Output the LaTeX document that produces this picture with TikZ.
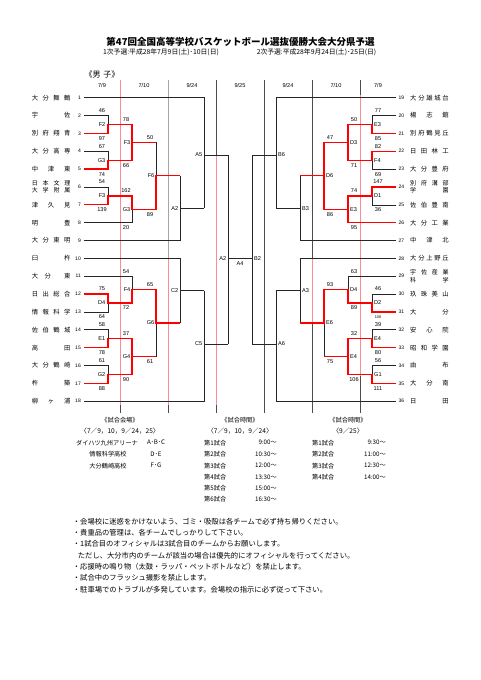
\documentclass[tikz,border=0pt]{standalone}
\usepackage{fontspec}
\setmainfont{Liberation Sans}
\newfontfamily\jp{Noto Sans CJK JP}
\newcommand\hf{\hfill\relax}
\begin{document}
\begin{tikzpicture}[x=1pt,y=-1pt,
  brk/.style={draw=black!85, line width=0.6pt},
  win/.style={draw=red, line width=1.3pt, line join=miter},
  sepg/.style={draw=black!70, line width=0.6pt},
  sepl/.style={draw=black!35, line width=0.6pt},
  sepr/.style={draw=red!45, line width=0.6pt},
  sc/.style={inner sep=0pt, font=\fontsize{5.6}{6}\selectfont},
  gl/.style={inner sep=0pt, font=\fontsize{5.6}{6}\selectfont},
  nm/.style={inner sep=0pt, font=\jp\fontsize{6.3}{7}\selectfont},
  nm2/.style={inner sep=0pt, align=left, font=\jp\fontsize{6}{7.3}\selectfont},
  num/.style={inner sep=0pt, font=\fontsize{5}{6}\selectfont},
  hd/.style={inner sep=0pt, font=\fontsize{5.6}{6}\selectfont},
  jps/.style={inner sep=0pt, font=\jp\fontsize{6.2}{7}\selectfont},
  jpsub/.style={inner sep=0pt, font=\jp\fontsize{6.6}{7}\selectfont},
  note/.style={inner sep=0pt, anchor=west, font=\jp\fontsize{7.3}{8}\selectfont}]
\useasboundingbox (0,0) rectangle (481,680);
\fill[white] (0,0) rectangle (481,680);

% title
\node[inner sep=0pt, font=\jp\bfseries\fontsize{9.5}{11}\selectfont] (title) at (240.5,41.7) {第47回全国高等学校バスケットボール選抜優勝大会大分県予選};
\node[inner sep=0pt, font=\jp\fontsize{6.8}{8}\selectfont] (sub1) at (161,52.5) {1次予選:平成28年7月9日(土)･10日(日)};
\node[inner sep=0pt, font=\jp\fontsize{6.8}{8}\selectfont] (sub2) at (316.5,52.5) {2次予選:平成28年9月24日(土)･25日(日)};
\node[inner sep=0pt, font=\jp\fontsize{8}{8}\selectfont] (sex) at (102,74) {《男\,\,子》};

% headers
\node[hd] (h1) at (102,85) {7/9};
\node[hd] (h2) at (144,85) {7/10};
\node[hd] (h3) at (192,85) {9/24};
\node[hd] (h4) at (240,85) {9/25};
\node[hd] (h5) at (288,85) {9/24};
\node[hd] (h6) at (336,85) {7/10};
\node[hd] (h7) at (378,85) {7/9};

% separators
\draw[sepr] (120,80) -- (120,405);
\draw[sepg] (120,405) -- (120,413);
\draw[sepl] (168,80) -- (168,258.35);
\draw[sepr] (168,258.35) -- (168,405);
\draw[sepg] (168,405) -- (168,413);
\draw[sepg] (216,80) -- (216,155);
\draw[sepr] (216,155) -- (216,405);
\draw[sepg] (216,405) -- (216,413);
\draw[sepg] (264,80) -- (264,413);
\draw[sepg] (312,80) -- (312,258.35);
\draw[sepr] (312,258.35) -- (312,323);
\draw[sepg] (312,323) -- (312,413);
\draw[sepg] (360,80) -- (360,95);
\draw[sepr] (360,95) -- (360,376);
\draw[sepg] (360,376) -- (360,413);

% ---------- left bracket (black) ----------
\draw[brk] (84,97.7) -- (204,97.7) -- (204,208.2);
\draw[brk] (84,115.55) -- (108,115.55) -- (108,124.5);
\draw[brk] (84,151.25) -- (108,151.25) -- (108,160.2);
\draw[brk] (84,186.95) -- (108,186.95) -- (108,195.9);
\draw[brk] (84,222.65) -- (132,222.65) -- (132,209.3);
\draw[brk] (84,240.5) -- (180,240.5) -- (180,175.8);
\draw[brk] (84,258.35) -- (180,258.35) -- (180,323);
\draw[brk] (84,276.2) -- (132,276.2) -- (132,289.6);
\draw[brk] (84,311.9) -- (108,311.9) -- (108,303);
\draw[brk] (84,329.75) -- (108,329.75) -- (108,338.7);
\draw[brk] (84,365.45) -- (108,365.45) -- (108,374.4);
\draw[brk] (84,401.15) -- (204,401.15) -- (204,290.7);
\draw[brk] (156,142.35) -- (156,175.8);
\draw[brk] (156,356.5) -- (156,323);
\draw[brk] (180,208.2) -- (204,208.2);
\draw[brk] (180,290.7) -- (204,290.7);
\draw[brk] (204,155) -- (228,155);
\draw[brk] (204,344) -- (228,344);
\draw[brk] (228,155) -- (228,344);
\draw[brk] (228,258.35) -- (252,258.35);

% ---------- right bracket (black) ----------
\draw[brk] (396,97.7) -- (276,97.7) -- (276,208.2);
\draw[brk] (396,115.55) -- (372,115.55) -- (372,124.5);
\draw[brk] (396,169.1) -- (372,169.1) -- (372,160.2);
\draw[brk] (396,204.8) -- (372,204.8) -- (372,195.9);
\draw[brk] (396,240.5) -- (300,240.5) -- (300,175.8);
\draw[brk] (396,258.35) -- (300,258.35) -- (300,323);
\draw[brk] (396,276.2) -- (348,276.2) -- (348,289.6);
\draw[brk] (396,294.05) -- (372,294.05) -- (372,303);
\draw[brk] (396,329.75) -- (372,329.75) -- (372,338.7);
\draw[brk] (396,365.45) -- (372,365.45) -- (372,374.4);
\draw[brk] (396,401.15) -- (276,401.15) -- (276,290.7);
\draw[brk] (324,356.5) -- (324,323);
\draw[brk] (300,208.2) -- (276,208.2);
\draw[brk] (300,290.7) -- (276,290.7);
\draw[brk] (276,155) -- (252,155);
\draw[brk] (276,344) -- (252,344);
\draw[brk] (252,155) -- (252,344);

% ---------- winners (red) ----------
\draw[win] (84,133.4) -- (108,133.4) -- (108,124.5) -- (132,124.5) -- (132,142.35) -- (156,142.35);
\draw[win] (84,169.1) -- (108,169.1) -- (108,160.2) -- (132,160.2) -- (132,142.35);
\draw[win] (84,204.8) -- (108,204.8) -- (108,195.9) -- (132,195.9) -- (132,209.3) -- (156,209.3) -- (156,175.8) -- (180,175.8);
\draw[win] (84,294.05) -- (108,294.05) -- (108,303) -- (132,303) -- (132,289.6) -- (156,289.6) -- (156,323) -- (180,323);
\draw[win] (84,347.6) -- (108,347.6) -- (108,338.7) -- (132,338.7) -- (132,356.5);
\draw[win] (84,383.3) -- (108,383.3) -- (108,374.4) -- (132,374.4) -- (132,356.5) -- (156,356.5);

\draw[win] (396,133.4) -- (372,133.4) -- (372,124.5) -- (348,124.5) -- (348,142.35);
\draw[win] (396,151.25) -- (372,151.25) -- (372,160.2) -- (348,160.2) -- (348,142.35) -- (324,142.35) -- (324,175.8);
\draw[win] (396,186.95) -- (372,186.95) -- (372,195.9) -- (348,195.9) -- (348,209.3);
\draw[win] (396,222.65) -- (348,222.65) -- (348,209.3) -- (324,209.3) -- (324,175.8) -- (300,175.8);
\draw[win] (396,311.9) -- (372,311.9) -- (372,303) -- (348,303) -- (348,289.6) -- (324,289.6) -- (324,323) -- (300,323);
\draw[win] (396,347.6) -- (372,347.6) -- (372,338.7) -- (348,338.7) -- (348,356.5);
\draw[win] (396,383.3) -- (372,383.3) -- (372,374.4) -- (348,374.4) -- (348,356.5) -- (324,356.5);

% ---------- team names ----------
\foreach \i/\y/\tn in {1/97.7/{大\hf 分\hf 舞\hf 鶴}, 2/115.55/{宇\hf 佐}, 3/133.4/{別\hf 府\hf 翔\hf 青},
  4/151.25/{大\hf 分\hf 高\hf 専}, 5/169.1/{中\hf 津\hf 東}, 7/204.8/{津\hf 久\hf 見},
  8/222.65/{明\hf 豊}, 9/240.5/{大\hf 分\hf 東\hf 明}, 10/258.35/{臼\hf 杵},
  11/276.2/{大\hf 分\hf\hf 東}, 12/294.05/{日\hf 出\hf 総\hf 合}, 13/311.9/{情\hf 報\hf 科\hf 学},
  14/329.75/{佐\hf 伯\hf 鶴\hf 城}, 15/347.6/{高\hf 田}, 16/365.45/{大\hf 分\hf 鶴\hf 崎},
  17/383.3/{杵\hf 築}, 18/401.15/{柳\hf ヶ\hf 浦}} {
  \node[nm, anchor=west] (name\i) at (31.7,\y) {\makebox[38.5pt][s]{\tn}};
}
\node[nm2, anchor=west] (name6) at (31.7,186.95) {\makebox[38.5pt][s]{日\hf 本\hf 文\hf 理}\\\makebox[38.5pt][s]{大\hf 学\hf 附\hf 属}};
\foreach \i/\y/\tn in {19/97.7/{大\hf 分\hf 雄\hf 城\hf 台}, 20/115.55/{楊\hf 志\hf 館}, 21/133.4/{別\hf 府\hf 鶴\hf 見\hf 丘},
  22/151.25/{日\hf 田\hf 林\hf 工}, 23/169.1/{大\hf 分\hf 豊\hf 府}, 25/204.8/{佐\hf 伯\hf 豊\hf 南},
  26/222.65/{大\hf 分\hf 工\hf 業}, 27/240.5/{中\hf 津\hf 北}, 28/258.35/{大\hf 分\hf 上\hf 野\hf 丘},
  30/294.05/{玖\hf 珠\hf 美\hf 山}, 31/311.9/{大\hf 分}, 32/329.75/{安\hf 心\hf 院},
  33/347.6/{昭\hf 和\hf 学\hf 園}, 34/365.45/{由\hf 布}, 35/383.3/{大\hf 分\hf 南}, 36/401.15/{日\hf 田}} {
  \node[nm, anchor=west] (name\i) at (410,\y) {\makebox[38.5pt][s]{\tn}};
}
\node[nm2, anchor=west] (name24) at (410,186.95) {\makebox[38.5pt][s]{別\hf 府\hf 溝\hf 部}\\\makebox[38.5pt][s]{学\hf 園}};
\node[nm2, anchor=west] (name29) at (410,276.2) {\makebox[38.5pt][s]{宇\hf 佐\hf 産\hf 業}\\\makebox[38.5pt][s]{科\hf 学}};

% ---------- numbers ----------
\foreach \i/\y in {1/97.7,2/115.55,3/133.4,4/151.25,5/169.1,6/186.95,7/204.8,8/222.65,9/240.5,10/258.35,11/276.2,12/294.05,13/311.9,14/329.75,15/347.6,16/365.45,17/383.3,18/401.15} {
  \node[num, anchor=east] (no\i) at (81,\y) {\i};
}
\foreach \i/\y in {19/97.7,20/115.55,21/133.4,22/151.25,23/169.1,24/186.95,25/204.8,26/222.65,27/240.5,28/258.35,29/276.2,30/294.05,31/311.9,32/329.75,33/347.6,34/365.45,35/383.3,36/401.15} {
  \node[num, anchor=west] (no\i) at (398.5,\y) {\i};
}

% ---------- scores ----------
\foreach \x/\y/\s [count=\k] in {102/110.5/46, 102/138.4/97, 102/146.2/67, 102/174.1/74, 102/181.9/54, 102/209.8/139,
  102/289/75, 102/316.9/64, 102/324.7/58, 102/352.6/78, 102/360.4/61, 102/388.3/88,
  126/119.5/78, 126/165.2/66, 126/190.9/162, 126/227.6/20, 126/271.2/54, 126/308/72, 126/333.7/37, 126/379.4/90,
  150/137.3/50, 150/214.3/89, 150/284.6/65, 150/361.5/61,
  378/110.5/77, 378/138.4/85, 378/146.2/82, 378/174.1/69, 378/181.9/147, 378/209.8/36,
  378/289/46, 378/324.7/39, 378/352.6/80, 378/360.4/56, 378/388.3/111,
  354/119.5/50, 354/165.2/71, 354/190.9/74, 354/227.6/95, 354/271.2/63, 354/308/89, 354/333.7/32, 354/379.4/106,
  330/137.3/47, 330/214.3/86, 330/284.6/93, 330/361.5/75} {
  \node[sc] (score\k) at (\x,\y) {\s};
}
\node[inner sep=0pt, font=\fontsize{3.8}{4}\selectfont] (score108) at (378,316.9) {108};

% ---------- game labels ----------
\foreach \x/\y/\s/\a [count=\k] in {105.5/124.5/F2/east, 105.5/160.2/G3/east, 105.5/195.9/F3/east, 105.5/303/D4/east, 105.5/338.7/E1/east, 105.5/374.4/G2/east,
  130.5/142.35/F3/east, 130.5/209.3/G3/east, 130.5/289.6/F4/east, 130.5/356.5/G4/east,
  154.5/175.8/F6/east, 154.5/323/G6/east, 178.5/208.2/A2/east, 178.5/290.7/C2/east,
  202.5/155/A5/east, 202.5/344/C5/east, 226.5/258.35/A2/east,
  374/124.5/E3/west, 374/160.2/F4/west, 374/195.9/D1/west, 374/303/D2/west, 374/338.7/E4/west, 374/374.4/G1/west,
  350/142.35/D3/west, 350/209.3/E3/west, 350/289.6/D4/west, 350/356.5/E4/west,
  326/175.8/D6/west, 326/323/E6/west, 302/208.2/B3/west, 302/290.7/A3/west,
  278/155/B6/west, 278/344/A6/west, 254/258.35/B2/west} {
  \node[gl, anchor=\a] (game\k) at (\x,\y) {\s};
}
\node[gl] (final) at (240,263.5) {A4};

% ---------- venue / times ----------
\node[jps] (venh) at (120,420) {《試合会場》};
\node[jpsub] (vens) at (120,431) {〈7／9，10，9／24，25〉};
\node[jps] (ven1) at (107,442.7) {ダイハツ九州アリーナ};
\node[jps] (ven2) at (108,454.3) {情報科学高校};
\node[jps] (ven3) at (108,465.7) {大分鶴崎高校};
\node[jps] (cod1) at (156,442.7) {A･B･C};
\node[jps] (cod2) at (156,454.3) {D･E};
\node[jps] (cod3) at (156,465.7) {F･G};

\node[jps] (t1h) at (240,420) {《試合時間》};
\node[jpsub] (t1s) at (240,431) {〈7／9，10，9／24〉};
\foreach \nn/\y/\tm in {1/442.7/9:00～, 2/454.3/10:30～, 3/465.7/12:00～, 4/477/13:30～, 5/488.3/15:00～, 6/499.5/16:30～} {
  \node[jps, anchor=west] (ga\nn) at (204,\y) {第\nn{}試合};
  \node[jps, anchor=east] (ta\nn) at (277,\y) {\tm};
}
\node[jps] (t2h) at (348,420) {《試合時間》};
\node[jpsub] (t2s) at (348,431) {〈9／25〉};
\foreach \nn/\y/\tm in {1/442.7/9:30～, 2/454.3/11:00～, 3/465.7/12:30～, 4/477/14:00～} {
  \node[jps, anchor=west] (gb\nn) at (312,\y) {第\nn{}試合};
  \node[jps, anchor=east] (tb\nn) at (386,\y) {\tm};
}

% ---------- notes ----------
\node[note] (n1) at (72.7,521.7) {・会場校に迷惑をかけないよう、ゴミ・吸殻は各チームで必ず持ち帰りください。};
\node[note] (n2) at (72.7,532.9) {・貴重品の管理は、各チームでしっかりして下さい。};
\node[note] (n3) at (72.7,544.1) {・1試合目のオフィシャルは3試合目のチームからお願いします。};
\node[note] (n4) at (77.7,555.3) {ただし、大分市内のチームが該当の場合は優先的にオフィシャルを行ってください。};
\node[note] (n5) at (72.7,566.6) {・応援時の鳴り物（太鼓・ラッパ・ペットボトルなど）を禁止します。};
\node[note] (n6) at (72.7,577.9) {・試合中のフラッシュ撮影を禁止します。};
\node[note] (n7) at (72.7,589.2) {・駐車場でのトラブルが多発しています。会場校の指示に必ず従って下さい。};
\end{tikzpicture}
\end{document}
